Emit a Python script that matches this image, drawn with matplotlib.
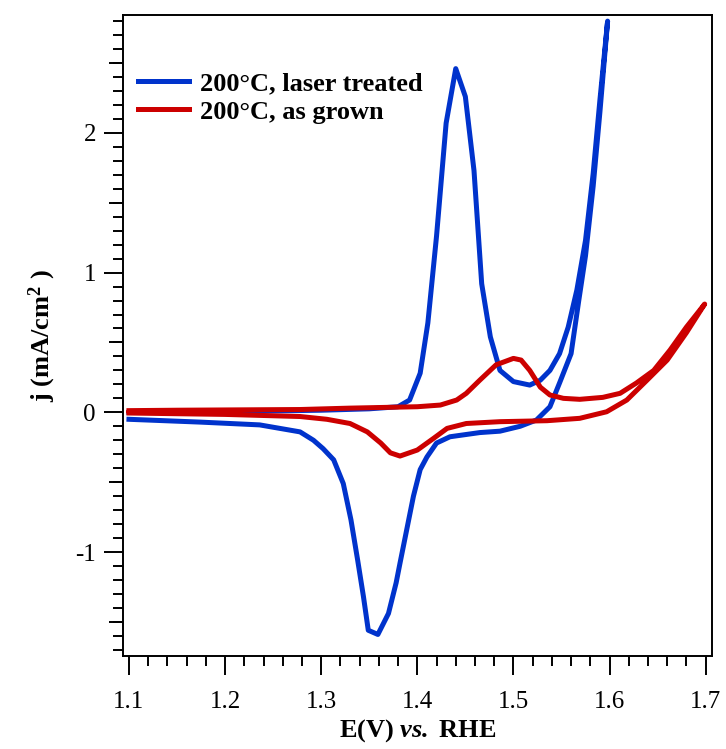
import numpy as np
import matplotlib
matplotlib.use('Agg')
import matplotlib.pyplot as plt
from matplotlib.ticker import MultipleLocator, FixedLocator, NullFormatter

plt.rcParams['font.family'] = 'serif'
plt.rcParams['font.serif'] = ['Liberation Serif', 'DejaVu Serif']
plt.rcParams['mathtext.fontset'] = 'custom'
plt.rcParams['mathtext.rm'] = 'Liberation Serif'
plt.rcParams['mathtext.it'] = 'Liberation Serif:italic'
plt.rcParams['mathtext.bf'] = 'Liberation Serif:bold'
plt.rcParams['mathtext.bfit'] = 'Liberation Serif:italic:bold'
plt.rcParams['axes.unicode_minus'] = False

# CV loop, 200 C laser treated (forward then reverse scan)
blue_E = [1.100, 1.150, 1.200, 1.250, 1.300, 1.350, 1.380, 1.392, 1.403, 1.411,
          1.420, 1.430, 1.440, 1.450, 1.459, 1.467, 1.476, 1.486, 1.500, 1.517,
          1.528, 1.538, 1.548, 1.557, 1.566, 1.575, 1.583, 1.590, 1.598,
          1.590, 1.583, 1.575, 1.568, 1.560, 1.548, 1.538, 1.524, 1.507, 1.486,
          1.465, 1.434, 1.420, 1.410, 1.403, 1.396, 1.389, 1.382, 1.378, 1.370,
          1.359, 1.349, 1.344, 1.338, 1.331, 1.323, 1.313, 1.302, 1.292, 1.278,
          1.236, 1.174, 1.100]
blue_j = [0.000, 0.003, 0.006, 0.010, 0.015, 0.025, 0.040, 0.088, 0.28, 0.64,
          1.26, 2.07, 2.46, 2.26, 1.73, 0.92, 0.54, 0.30, 0.22, 0.195,
          0.23, 0.30, 0.42, 0.61, 0.875, 1.23, 1.71, 2.235, 2.80,
          2.15, 1.62, 1.12, 0.80, 0.42, 0.21, 0.04, -0.055, -0.10, -0.135,
          -0.145, -0.175, -0.22, -0.32, -0.41, -0.60, -0.84, -1.08, -1.22, -1.44,
          -1.59, -1.56, -1.32, -1.06, -0.77, -0.51, -0.34, -0.26, -0.20, -0.14,
          -0.09, -0.07, -0.05]

# CV loop, 200 C as grown
red_E = [1.100, 1.150, 1.200, 1.278, 1.330, 1.400, 1.424, 1.441, 1.451, 1.465,
         1.482, 1.500, 1.508, 1.517, 1.528, 1.538, 1.552, 1.569, 1.593, 1.611,
         1.628, 1.646, 1.663, 1.680, 1.699,
         1.680, 1.660, 1.639, 1.618, 1.597, 1.569, 1.535, 1.486, 1.451, 1.431,
         1.417, 1.400, 1.382, 1.372, 1.362, 1.348, 1.330, 1.306, 1.278, 1.200,
         1.100]
red_j = [0.012, 0.015, 0.017, 0.020, 0.030, 0.040, 0.052, 0.088, 0.136, 0.23,
         0.34, 0.386, 0.374, 0.30, 0.18, 0.124, 0.10, 0.093, 0.107, 0.136,
         0.21, 0.30, 0.446, 0.61, 0.775,
         0.57, 0.374, 0.23, 0.088, 0.004, -0.043, -0.06, -0.067, -0.08, -0.115,
         -0.186, -0.27, -0.313, -0.29, -0.22, -0.14, -0.08, -0.05, -0.03, -0.015,
         -0.005]

blue = '#0033cc'
red = '#cc0000'

fig = plt.figure(figsize=(7.26, 7.49), dpi=100)
ax = fig.add_axes([0.1694, 0.1242, 0.8113, 0.8558])

ax.plot(blue_E, blue_j, color=blue, lw=3.6, solid_joinstyle='round', label='200°C, laser treated')
ax.plot(red_E, red_j, color=red, lw=3.6, solid_joinstyle='round', label='200°C, as grown')

ax.set_xlim(1.0938, 1.7066)
ax.set_ylim(-1.744, 2.844)

for s in ax.spines.values():
    s.set_linewidth(1.4)

ax.xaxis.set_major_locator(MultipleLocator(0.1))
ax.xaxis.set_minor_locator(MultipleLocator(0.02))
ax.yaxis.set_major_locator(FixedLocator([-1, 0, 1, 2]))
ax.yaxis.set_minor_locator(MultipleLocator(0.1))
ax.xaxis.set_major_formatter(plt.FuncFormatter(lambda v, p: f'{v:.1f}'))
ax.yaxis.set_major_formatter(plt.FuncFormatter(lambda v, p: f'{v:.0f}'))

ax.tick_params(which='both', direction='out', width=1.4, top=False, right=False)
ax.tick_params(axis='x', which='major', length=13.5, pad=12, labelsize=18)
ax.tick_params(axis='x', which='minor', length=7.5)
ax.tick_params(axis='y', which='major', length=13.5, pad=6, labelsize=18)
ax.tick_params(axis='y', which='minor', length=7)

# medium ticks at the half-units on the y axis
sec = ax.secondary_yaxis('left')
sec.spines['left'].set_visible(False)
sec.yaxis.set_major_locator(FixedLocator([-1.5, -0.5, 0.5, 1.5, 2.5]))
sec.yaxis.set_major_formatter(NullFormatter())
sec.tick_params(direction='out', length=10, width=1.4)

ax.set_xlabel(r'E(V) $\mathbfit{vs.}$ RHE', fontsize=19, fontweight='bold', labelpad=3)
ax.set_ylabel(r'j (mA/cm$^{\mathbf{2}}$ )', fontsize=19, fontweight='bold', labelpad=12)

ax.legend(loc='upper left', bbox_to_anchor=(0.025, 0.912), borderaxespad=0,
          borderpad=0, frameon=False, handlelength=1.95, handletextpad=0.42,
          labelspacing=0.2, prop={'size': 19, 'weight': 'bold'})

fig.savefig('out.png', dpi=100)
